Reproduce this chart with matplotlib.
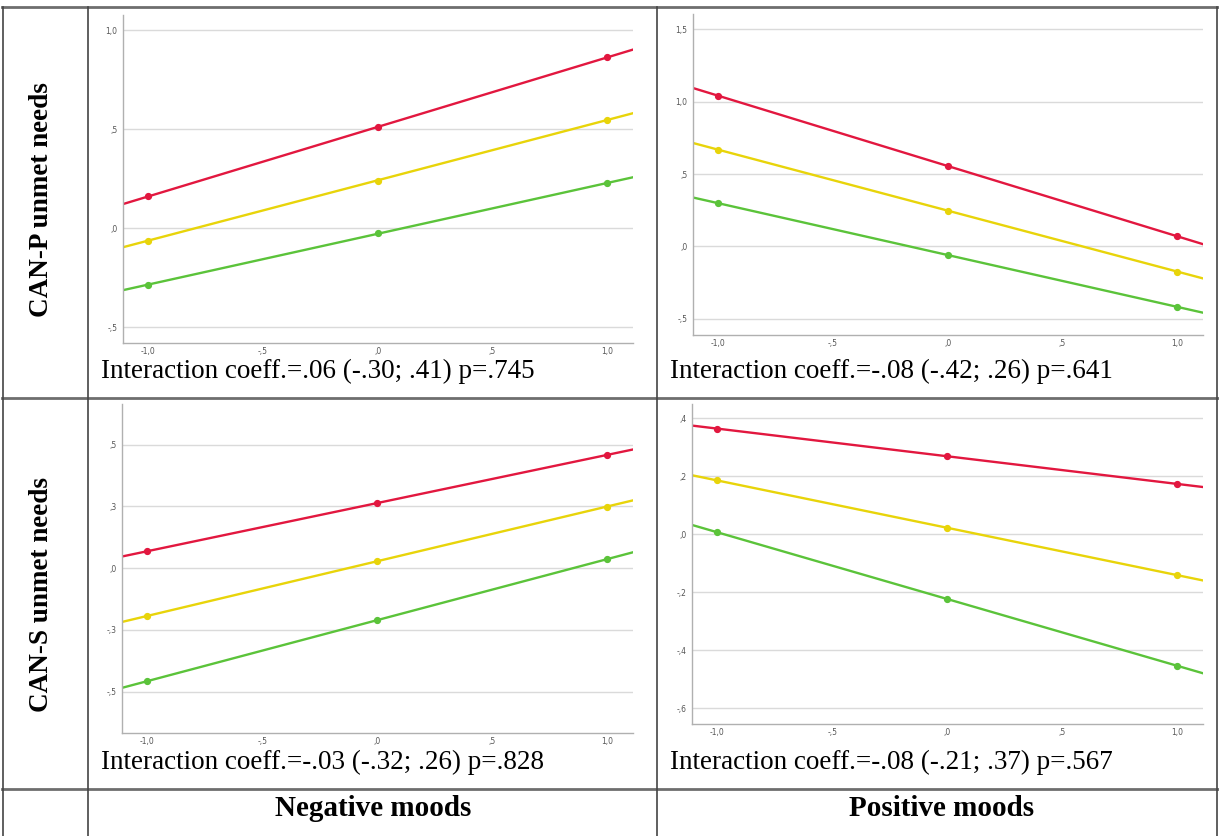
import numpy as np
import matplotlib.pyplot as plt
from matplotlib.lines import Line2D

# moderator levels (x) and predicted values for low / mean / high lines
x_levels = [-1.0, 0.0, 1.0]

# CAN-P unmet needs x Negative moods
p_neg_red = [0.16, 0.51, 0.862]
p_neg_yel = [-0.063, 0.24, 0.546]
p_neg_grn = [-0.285, -0.027, 0.228]

# CAN-P unmet needs x Positive moods
p_pos_red = [1.042, 0.555, 0.07]
p_pos_yel = [0.669, 0.246, -0.174]
p_pos_grn = [0.299, -0.062, -0.418]

# CAN-S unmet needs x Negative moods
s_neg_red = [0.068, 0.264, 0.458]
s_neg_yel = [-0.194, 0.027, 0.249]
s_neg_grn = [-0.458, -0.211, 0.036]

# CAN-S unmet needs x Positive moods
s_pos_red = [0.365, 0.269, 0.174]
s_pos_yel = [0.186, 0.023, -0.141]
s_pos_grn = [0.007, -0.222, -0.454]

x_ticks = [-1.0, -0.5, 0.0, 0.5, 1.0]
x_ticklabels = ['-1,0', '-,5', ',0', ',5', '1,0']

yt_p_neg = [1.0, 0.5, 0.0, -0.5]
yl_p_neg = ['1,0', ',5', ',0', '-,5']
yt_p_pos = [1.5, 1.0, 0.5, 0.0, -0.5]
yl_p_pos = ['1,5', '1,0', ',5', ',0', '-,5']
yt_s_neg = [0.5, 0.25, 0.0, -0.25, -0.5]
yl_s_neg = [',5', ',3', ',0', '-,3', '-,5']
yt_s_pos = [0.4, 0.2, 0.0, -0.2, -0.4, -0.6]
yl_s_pos = [',4', ',2', ',0', '-,2', '-,4', '-,6']

row_labels = ['CAN-P unmet needs', 'CAN-S unmet needs']
col_labels = ['Negative moods', 'Positive moods']
notes = ['Interaction coeff.=.06 (-.30; .41) p=.745',
         'Interaction coeff.=-.08 (-.42; .26) p=.641',
         'Interaction coeff.=-.03 (-.32; .26) p=.828',
         'Interaction coeff.=-.08 (-.21; .37) p=.567']

RED = '#e2173f'
YEL = '#e8d40a'
GRN = '#5bc33a'

W, H = 1219, 836
fig = plt.figure(figsize=(W / 100, H / 100), dpi=100)


def fx(px):
    return px / W


def fy(py):
    return 1 - py / H


panels = [
    # (left, top, right, bottom) in pixels, series, ticks, labels, ylim
    ((123, 15, 632.5, 343), (p_neg_red, p_neg_yel, p_neg_grn), yt_p_neg, yl_p_neg, (-0.58, 1.076)),
    ((692.8, 14.4, 1202.5, 334.5), (p_pos_red, p_pos_yel, p_pos_grn), yt_p_pos, yl_p_pos, (-0.609, 1.604)),
    ((122, 404, 632.5, 733), (s_neg_red, s_neg_yel, s_neg_grn), yt_s_neg, yl_s_neg, (-0.668, 0.664)),
    ((692, 404, 1202.5, 723.7), (s_pos_red, s_pos_yel, s_pos_grn), yt_s_pos, yl_s_pos, (-0.654, 0.45)),
]

for (l, t, r, b), series, yt, yl, ylim in panels:
    ax = fig.add_axes([fx(l), fy(b), fx(r) - fx(l), fy(t) - fy(b)])
    ax.set_xlim(-1.11, 1.11)
    ax.set_ylim(*ylim)
    for yv in yt:
        ax.axhline(yv, color='#dadada', lw=1.0, zorder=0)
    for vals, c in zip(series, (RED, YEL, GRN)):
        ax.axline((x_levels[0], vals[0]), (x_levels[-1], vals[-1]), color=c, lw=1.7, zorder=2)
        ax.plot(x_levels, vals, 'o', color=c, ms=4.2, zorder=3)
    ax.set_xticks(x_ticks)
    ax.set_xticklabels(x_ticklabels)
    ax.set_yticks(yt)
    ax.set_yticklabels(yl)
    ax.tick_params(axis='y', length=0, labelsize=5.5, colors='#555555', pad=4)
    ax.tick_params(axis='x', length=0, labelsize=5.5, colors='#555555', pad=3)
    for s in ('top', 'right'):
        ax.spines[s].set_visible(False)
    for s in ('left', 'bottom'):
        ax.spines[s].set_color('#b0b0b0')
        ax.spines[s].set_linewidth(1.0)

# table frame
def hline(y, x0, x1, lw=2.0, c='#6e6e6e'):
    fig.add_artist(Line2D([fx(x0), fx(x1)], [fy(y), fy(y)], color=c, lw=lw))


def vline(x, y0, y1, lw=1.2, c='#444444'):
    fig.add_artist(Line2D([fx(x), fx(x)], [fy(y0), fy(y1)], color=c, lw=lw))


hline(7, 2, 1218)
hline(398, 2, 1218)
hline(789, 2, 1218)
vline(2.5, 7, 836)
vline(88, 7, 836)
vline(657, 7, 836)
vline(1217, 7, 836)

serif = ['Liberation Serif', 'DejaVu Serif']
fig.text(fx(42), fy(200), row_labels[0], rotation=90, ha='center', va='center',
         fontsize=19.5, fontweight='bold', family=serif)
fig.text(fx(42), fy(594), row_labels[1], rotation=90, ha='center', va='center',
         fontsize=19.5, fontweight='bold', family=serif)
fig.text(fx(373), fy(808), col_labels[0], ha='center', va='center',
         fontsize=21, fontweight='bold', family=serif)
fig.text(fx(942), fy(808), col_labels[1], ha='center', va='center',
         fontsize=21, fontweight='bold', family=serif)

note_pos = [(101, 378), (670, 378), (101, 769), (670, 769)]
for txt, (px, py) in zip(notes, note_pos):
    fig.text(fx(px), fy(py), txt, ha='left', va='baseline', fontsize=19.5, family=serif)

fig.savefig('out.png', dpi=100)
